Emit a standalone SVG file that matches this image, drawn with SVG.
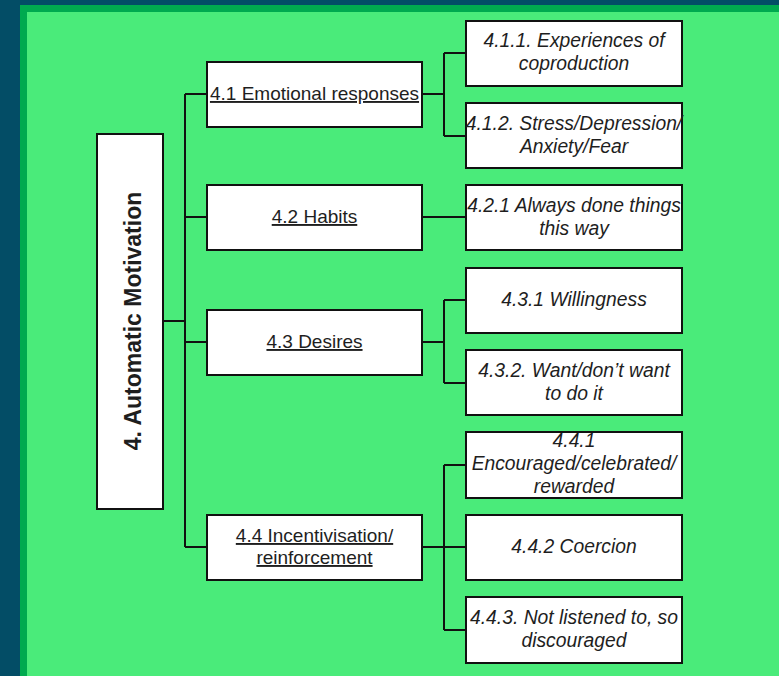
<svg xmlns="http://www.w3.org/2000/svg" width="779" height="676" viewBox="0 0 779 676">
  <style>
    .box { fill: #ffffff; stroke: #111111; stroke-width: 2; }
    .wire { fill: none; stroke: #111111; stroke-width: 2; }
    text { font-family: "Liberation Sans", Arial, sans-serif; fill: #1e1e1e; text-anchor: middle; }
    .root { font-size: 23px; font-weight: bold; }
    .lvl1 { font-size: 19px; text-decoration: underline; }
    .lvl2 { font-size: 19.3px; font-style: italic; }
  </style>

  <!-- frame -->
  <rect x="0" y="0" width="779" height="676" fill="#034d66"/>
  <rect x="20" y="5" width="759" height="671" fill="#00aa4f"/>
  <rect x="27" y="12" width="752" height="664" fill="#4aeb7a"/>

  <!-- connectors -->
  <g id="connectors" class="wire">
    <path d="M163 321 H185"/>
    <path d="M185 94 V547"/>
    <path d="M185 94 H207 M185 217 H207 M185 342 H207 M185 547 H207"/>
    <path d="M422 94 H444 M444 53 V136 M444 53 H466 M444 136 H466"/>
    <path d="M422 217 H466"/>
    <path d="M422 342 H444 M444 300 V383 M444 300 H466 M444 383 H466"/>
    <path d="M422 547 H466 M444 465 V630 M444 465 H466 M444 630 H466"/>
  </g>

  <!-- root -->
  <g id="n4">
    <rect class="box" x="97" y="134" width="66" height="375"/>
    <text class="root" transform="translate(141 321) rotate(-90)" x="0" y="0">4. Automatic Motivation</text>
  </g>

  <!-- level 1 -->
  <g id="n4_1">
    <rect class="box" x="207" y="62" width="215" height="65"/>
    <text class="lvl1" x="314.5" y="100">4.1 Emotional responses</text>
  </g>
  <g id="n4_2">
    <rect class="box" x="207" y="185" width="215" height="65"/>
    <text class="lvl1" x="314.5" y="223">4.2 Habits</text>
  </g>
  <g id="n4_3">
    <rect class="box" x="207" y="310" width="215" height="65"/>
    <text class="lvl1" x="314.5" y="348">4.3 Desires</text>
  </g>
  <g id="n4_4">
    <rect class="box" x="207" y="515" width="215" height="65"/>
    <text class="lvl1" x="314.5" y="542">4.4 Incentivisation/</text>
    <text class="lvl1" x="314.5" y="564">reinforcement</text>
  </g>

  <!-- level 2 -->
  <g id="n4_1_1">
    <rect class="box" x="466" y="21" width="216" height="65"/>
    <text class="lvl2" x="574" y="47">4.1.1. Experiences of</text>
    <text class="lvl2" x="574" y="70">coproduction</text>
  </g>
  <g id="n4_1_2">
    <rect class="box" x="466" y="103" width="216" height="65"/>
    <text class="lvl2" x="574" y="130">4.1.2. Stress/Depression/</text>
    <text class="lvl2" x="574" y="153">Anxiety/Fear</text>
  </g>
  <g id="n4_2_1">
    <rect class="box" x="466" y="185" width="216" height="65"/>
    <text class="lvl2" x="574" y="212">4.2.1 Always done things</text>
    <text class="lvl2" x="574" y="235">this way</text>
  </g>
  <g id="n4_3_1">
    <rect class="box" x="466" y="268" width="216" height="65"/>
    <text class="lvl2" x="574" y="306">4.3.1 Willingness</text>
  </g>
  <g id="n4_3_2">
    <rect class="box" x="466" y="350" width="216" height="65"/>
    <text class="lvl2" x="574" y="377">4.3.2. Want/don’t want</text>
    <text class="lvl2" x="574" y="400">to do it</text>
  </g>
  <g id="n4_4_1">
    <rect class="box" x="466" y="432" width="216" height="66"/>
    <text class="lvl2" x="574" y="447">4.4.1</text>
    <text class="lvl2" x="574" y="470">Encouraged/celebrated/</text>
    <text class="lvl2" x="574" y="493">rewarded</text>
  </g>
  <g id="n4_4_2">
    <rect class="box" x="466" y="515" width="216" height="65"/>
    <text class="lvl2" x="574" y="553">4.4.2 Coercion</text>
  </g>
  <g id="n4_4_3">
    <rect class="box" x="466" y="597" width="216" height="66"/>
    <text class="lvl2" x="574" y="624">4.4.3. Not listened to, so</text>
    <text class="lvl2" x="574" y="647">discouraged</text>
  </g>
</svg>
